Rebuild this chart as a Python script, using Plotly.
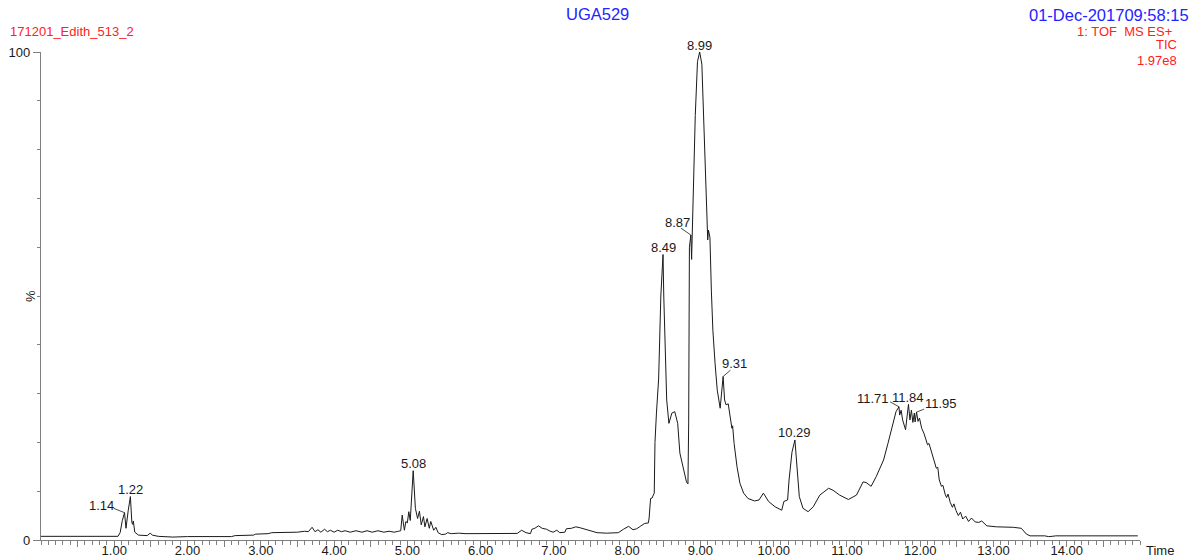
import plotly.graph_objects as go

# Total ion chromatogram: retention time (min) vs relative intensity (%)
rt = [
    0.00, 1.05, 1.08, 1.11, 1.14, 1.16, 1.19, 1.22, 1.24, 1.25, 1.26, 1.28, 1.33, 1.40,
    1.45, 1.49, 1.52, 1.60, 1.80, 2.00, 2.60, 2.65, 2.90, 2.93, 3.10, 3.15, 3.50, 3.60,
    3.65, 3.70, 3.74, 3.78, 3.82, 3.87, 3.91, 3.95, 4.00, 4.05, 4.10, 4.15, 4.22, 4.30,
    4.38, 4.45, 4.52, 4.60, 4.68, 4.75, 4.82, 4.88, 4.91, 4.93, 4.96, 4.98, 5.00, 5.02,
    5.04, 5.08, 5.11, 5.14, 5.165, 5.19, 5.22, 5.24, 5.27, 5.30, 5.32, 5.36, 5.39, 5.42,
    5.47, 5.52, 5.55, 5.60, 5.70, 5.80, 6.00, 6.30, 6.50, 6.56, 6.62, 6.68, 6.70, 6.74,
    6.79, 6.84, 6.90, 6.95, 6.99, 7.04, 7.08, 7.15, 7.17, 7.24, 7.30, 7.36, 7.43, 7.49,
    7.59, 7.72, 7.88, 7.95, 8.02, 8.08, 8.13, 8.18, 8.24, 8.29, 8.30, 8.32, 8.34, 8.37,
    8.38, 8.40, 8.43, 8.46, 8.48, 8.49, 8.50, 8.52, 8.54, 8.57, 8.61, 8.65, 8.69, 8.72,
    8.77, 8.81, 8.83, 8.84, 8.85, 8.86, 8.87, 8.88, 8.90, 8.93, 8.96, 8.99, 9.02, 9.05,
    9.08, 9.10, 9.11, 9.13, 9.15, 9.17, 9.20, 9.23, 9.27, 9.31, 9.33, 9.35, 9.38, 9.40,
    9.43, 9.44, 9.46, 9.50, 9.54, 9.59, 9.65, 9.74, 9.80, 9.86, 9.93, 10.02, 10.11, 10.14,
    10.19, 10.21, 10.25, 10.29, 10.31, 10.35, 10.40, 10.47, 10.54, 10.63, 10.75, 10.81,
    10.90, 11.02, 11.13, 11.22, 11.26, 11.33, 11.40, 11.50, 11.56, 11.62, 11.67, 11.71,
    11.72, 11.74, 11.76, 11.80, 11.84, 11.86, 11.88, 11.90, 11.92, 11.93, 11.95, 11.97,
    11.99, 12.02, 12.05, 12.08, 12.10, 12.12, 12.16, 12.19, 12.22, 12.24, 12.26, 12.29,
    12.31, 12.34, 12.36, 12.38, 12.41, 12.44, 12.46, 12.49, 12.52, 12.55, 12.58, 12.62,
    12.66, 12.70, 12.75, 12.80, 12.84, 12.91, 13.04, 13.27, 13.38, 13.45, 13.50, 13.70,
    13.75, 13.80, 13.85, 14.97,
]
intensity = [
    0.75, 0.75, 1.5, 4.0, 5.6, 2.4, 6.0, 8.9, 3.6, 3.2, 3.9, 1.6, 1.0, 0.9,
    0.9, 1.4, 1.0, 0.75, 0.6, 0.7, 0.7, 0.9, 1.0, 1.2, 1.3, 1.5, 1.6, 1.8,
    1.7, 2.6, 1.7, 2.1, 1.6, 2.2, 1.7, 2.0, 1.6, 2.0, 1.7, 1.9, 1.6, 1.9,
    1.6, 1.9, 1.6, 1.9, 1.6, 1.8, 1.6, 1.8, 1.9, 5.1, 2.0, 3.8, 3.5, 5.8,
    4.0, 14.2, 6.5, 4.4, 5.9, 3.1, 4.8, 2.7, 4.4, 2.4, 3.8, 2.0, 2.6, 1.5,
    1.1, 1.2, 1.5, 1.3, 1.4, 1.3, 1.3, 1.3, 1.35, 2.0, 1.5, 1.3, 2.2, 2.4,
    2.9, 2.4, 2.2, 1.8, 1.6, 2.0, 1.5, 1.6, 2.3, 2.4, 2.7, 2.5, 2.2, 2.0,
    1.5, 1.4, 1.5, 2.2, 2.8, 2.1, 2.3, 2.8, 3.4, 3.5, 4.5, 8.5, 8.6, 9.6,
    20.0, 26.0, 33.0, 50.0, 55.0, 58.5, 50.0, 36.0, 28.7, 23.9, 26.0, 26.3, 23.9, 17.8,
    14.7, 11.9, 11.5, 24.0, 60.0, 62.0, 62.5, 57.5, 70.0, 87.0, 98.0, 100.0, 97.5, 84.0,
    71.7, 61.5, 63.5, 62.0, 51.0, 43.0, 36.2, 30.7, 27.0, 33.5, 28.7, 27.7, 27.9, 26.0,
    22.9, 23.4, 19.8, 15.0, 11.6, 9.6, 8.5, 8.0, 8.2, 9.6, 7.9, 6.8, 6.1, 7.9,
    8.2, 12.3, 18.0, 20.5, 17.0, 8.9, 6.5, 5.8, 6.8, 9.2, 10.6, 10.2,
    9.2, 8.3, 9.2, 11.9, 11.8, 11.0, 13.0, 16.4, 19.8, 23.2, 26.3, 27.3,
    25.6, 26.6, 24.6, 22.6, 27.8, 24.6, 26.6, 24.1, 26.0, 24.2, 26.2, 24.3,
    25.0, 22.9, 21.9, 20.5, 19.5, 19.8, 17.8, 16.4, 14.7, 14.9, 12.3, 11.0,
    11.2, 9.4, 8.7, 9.4, 7.7, 6.7, 7.4, 6.0, 5.0, 5.7, 4.3, 4.9,
    3.8, 4.5, 3.7, 3.6, 3.9, 2.9, 2.7, 2.6, 2.4, 1.2, 0.85, 0.85,
    0.7, 0.75, 0.85, 0.85,
]

# Peak annotations: label, apex time
peak_rt = [1.14, 1.22, 5.08, 8.49, 8.87, 8.99, 9.31, 10.29, 11.71, 11.84, 11.95]
peak_labels = ["1.14", "1.22", "5.08", "8.49", "8.87", "8.99", "9.31", "10.29",
               "11.71", "11.84", "11.95"]

# Where a label is displaced from its apex: (text x, text y, leader start x, leader start y)
label_offsets = {
    "1.14": (0.83, 7.0, 0.99, 6.5),
    "8.87": (8.69, 65.0, 8.735, 63.9),
    "9.31": (9.466, 36.2, 9.41, 34.8),
    "11.71": (11.36, 29.0, 11.59, 28.3),
    "11.95": (12.28, 27.9, 12.05, 26.8),
}

x_major = [i * 0.5 for i in range(1, 30)]
x_text = [f"{v:.2f}" if v == int(v) else "" for v in x_major]

FONT = "Liberation Sans, Arial, sans-serif"
RED = "#ff2020"
BLUE = "#2323ff"
AXIS = "#808080"
INK = "#1a1a1a"

fig = go.Figure()
fig.add_trace(go.Scatter(x=rt, y=intensity, mode="lines",
                         line=dict(color=INK, width=1), hoverinfo="x+y"))

annotations = []
shapes = []
lookup = dict(zip(rt, intensity))
for lab, t in zip(peak_labels, peak_rt):
    apex = lookup[t]
    if lab in label_offsets:
        tx, ty, lx, ly = label_offsets[lab]
        annotations.append(dict(x=tx, y=ty, xref="x", yref="y", text=lab, showarrow=False,
                                xanchor="center", yanchor="middle",
                                font=dict(family=FONT, size=13, color=INK)))
        shapes.append(dict(type="line", xref="x", yref="y", x0=lx, y0=ly, x1=t, y1=apex,
                           line=dict(color=INK, width=0.8)))
    else:
        annotations.append(dict(x=t, y=apex, xref="x", yref="y", text=lab, showarrow=False,
                                xanchor="center", yanchor="middle", yshift=7,
                                font=dict(family=FONT, size=13, color=INK)))

def px_x(p):
    return (p - 41) / 1099.0

def px_y(p):
    return (540 - p) / 488.0

header = [
    ("UGA529", 597, 14, "center", BLUE, 16.5),
    ("01-Dec-201709:58:15", 1190, 15, "right", BLUE, 16.5),
    ("171201_Edith_513_2", 9, 31, "left", RED, 13),
    ("1: TOF\u00a0 MS ES+", 1173, 31.5, "right", RED, 13),
    ("TIC", 1178, 44.5, "right", RED, 13),
    ("1.97e8", 1178, 60.5, "right", RED, 13),
]
for text, hx, hy, anchor, col, size in header:
    annotations.append(dict(x=px_x(hx), y=px_y(hy), xref="paper", yref="paper", text=text,
                            showarrow=False, xanchor=anchor, yanchor="middle", borderpad=0,
                            font=dict(family=FONT, size=size, color=col)))

annotations.append(dict(x=px_x(30), y=px_y(296), xref="paper", yref="paper", text="%",
                        showarrow=False, textangle=-90, xanchor="center", yanchor="middle",
                        font=dict(family=FONT, size=13, color=INK)))
annotations.append(dict(x=px_x(1145), y=px_y(550), xref="paper", yref="paper", text="Time",
                        showarrow=False, xanchor="left", yanchor="middle", borderpad=0,
                        font=dict(family=FONT, size=13, color=INK)))

fig.update_layout(
    width=1192, height=558,
    margin=dict(l=41, r=52, t=52, b=18),
    paper_bgcolor="white", plot_bgcolor="white",
    showlegend=False,
    annotations=annotations,
    shapes=shapes,
    xaxis=dict(range=[0, 15], showgrid=False, zeroline=False, automargin=False,
               showline=True, linecolor=AXIS, linewidth=1.3,
               tickmode="array", tickvals=x_major, ticktext=x_text,
               ticks="outside", ticklen=6, tickcolor=AXIS, tickwidth=1,
               ticklabelstandoff=-8,
               tickfont=dict(family=FONT, size=13, color=INK),
               minor=dict(tickmode="linear", tick0=0, dtick=0.1, ticks="outside",
                          ticklen=3.5, tickcolor=AXIS, tickwidth=1, showgrid=False)),
    yaxis=dict(range=[0, 100], showgrid=False, zeroline=False, automargin=False,
               showline=True, linecolor=AXIS, linewidth=1.3,
               tickmode="array", tickvals=[0, 100], ticktext=["0", "100"],
               ticks="outside", ticklen=7, tickcolor=AXIS, tickwidth=1,
               ticklabelstandoff=0,
               tickfont=dict(family=FONT, size=13, color=INK),
               minor=dict(tickmode="linear", tick0=0, dtick=10, ticks="outside",
                          ticklen=3, tickcolor=AXIS, tickwidth=1, showgrid=False)),
)

fig.write_html("out.html")
